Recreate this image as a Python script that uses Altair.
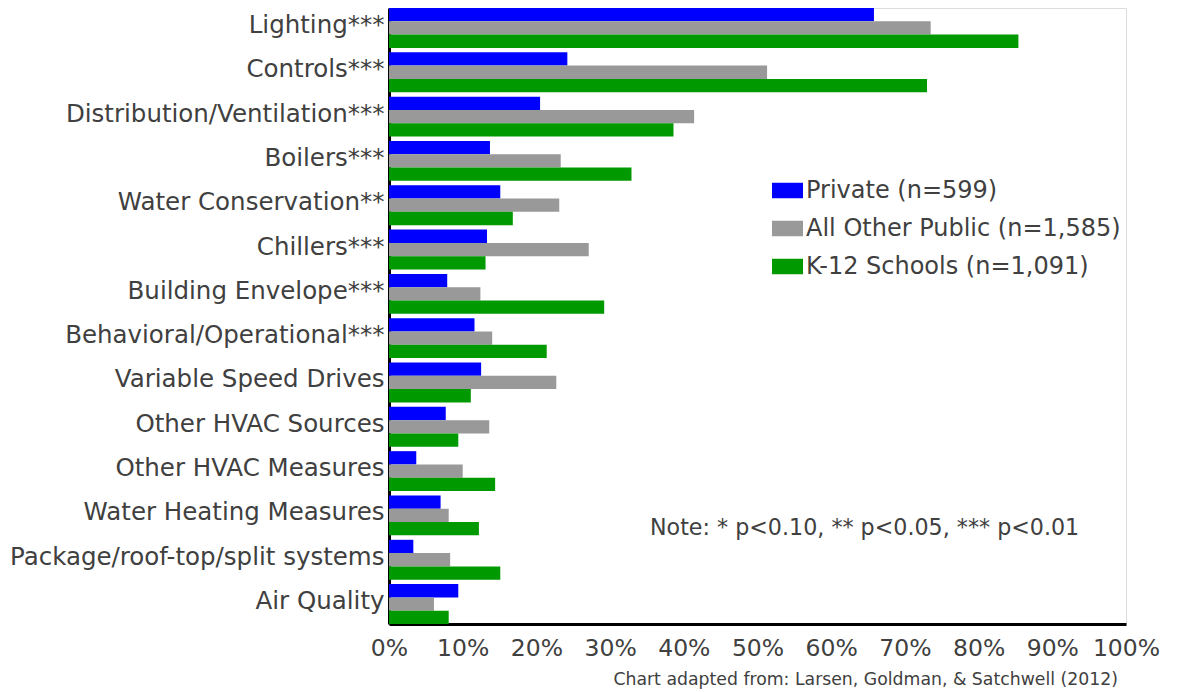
import altair as alt
import pandas as pd

categories = [
    "Lighting***", "Controls***", "Distribution/Ventilation***", "Boilers***",
    "Water Conservation**", "Chillers***", "Building Envelope***",
    "Behavioral/Operational***", "Variable Speed Drives", "Other HVAC Sources",
    "Other HVAC Measures", "Water Heating Measures",
    "Package/roof-top/split systems", "Air Quality",
]
series = ["Private (n=599)", "All Other Public (n=1,585)", "K-12 Schools (n=1,091)"]
private = [65.8, 24.2, 20.5, 13.7, 15.1, 13.3, 7.9, 11.6, 12.5, 7.7, 3.7, 7.0, 3.3, 9.4]
other_public = [73.5, 51.3, 41.4, 23.3, 23.1, 27.1, 12.4, 14.0, 22.7, 13.6, 10.0, 8.1, 8.3, 6.1]
k12 = [85.4, 73.0, 38.6, 32.9, 16.8, 13.1, 29.2, 21.4, 11.1, 9.4, 14.4, 12.2, 15.1, 8.1]
colors = ["#0000FF", "#999999", "#009900"]
x_ticks = [0, 0.1, 0.2, 0.3, 0.4, 0.5, 0.6, 0.7, 0.8, 0.9, 1.0]
note = "Note: * p<0.10, ** p<0.05, *** p<0.01"
source = "Chart adapted from: Larsen, Goldman, & Satchwell (2012)"

rows = []
for vals, s in zip([private, other_public, k12], series):
    for c, v in zip(categories, vals):
        rows.append({"category": c, "series": s, "value": v / 100.0})
df = pd.DataFrame(rows)

FONT = "DejaVu Sans"
TXT = "#404040"

bars = alt.Chart(df).mark_bar(stroke=None).encode(
    y=alt.Y("category:N", sort=categories,
            scale=alt.Scale(paddingInner=0.1, paddingOuter=0.0),
            axis=alt.Axis(title=None, ticks=False, labelFontSize=24.5, labelFont=FONT,
                          labelColor=TXT, labelPadding=5, labelLimit=0, labelOffset=-2,
                          domainColor="black", domainWidth=3)),
    yOffset=alt.YOffset("series:N", sort=series, scale=alt.Scale(domain=series)),
    x=alt.X("value:Q", scale=alt.Scale(domain=[0, 1], nice=False),
            axis=alt.Axis(title=None, values=x_ticks, format=".0%", grid=False, ticks=False,
                          labelFontSize=23.5, labelFont=FONT, labelColor=TXT, labelPadding=12,
                          domainColor="black", domainWidth=3, labelFlush=False)),
    color=alt.Color("series:N", sort=series,
                    scale=alt.Scale(domain=series, range=colors),
                    legend=alt.Legend(title=None, orient="none", legendX=383, legendY=167,
                                      symbolType="M-1,-0.5H1V0.5H-1Z", symbolSize=961,
                                      symbolStrokeWidth=0, labelFontSize=24, labelFont=FONT,
                                      labelColor=TXT, labelOffset=3, rowPadding=10,
                                      labelLimit=0)),
)

note_layer = alt.Chart(pd.DataFrame({"t": [note]})).mark_text(
    align="left", baseline="middle", fontSize=22.2, font=FONT, color=TXT
).encode(x=alt.value(261), y=alt.value(520), text="t:N")

source_layer = alt.Chart(pd.DataFrame({"t": [source]})).mark_text(
    align="right", baseline="middle", fontSize=17.3, font=FONT, color=TXT
).encode(x=alt.value(729), y=alt.value(672), text="t:N")

chart = alt.layer(bars, note_layer, source_layer).properties(
    width=737, height=616,
    padding={"left": 381, "top": 0, "right": 40, "bottom": 66},
    autosize=alt.AutoSizeParams(type="none"),
).configure_view(stroke=None).configure(background="white")

chart.save("out.html", embed_options={"renderer": "svg", "actions": False})
